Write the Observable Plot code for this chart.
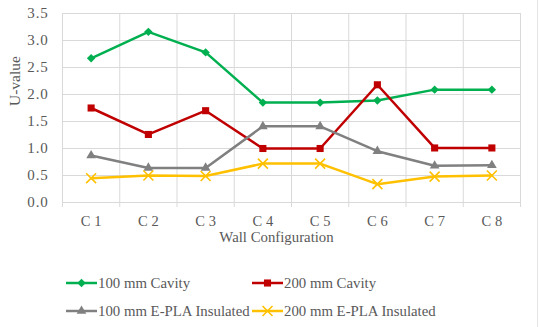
<!DOCTYPE html>
<html>
<head>
<meta charset="utf-8">
<script src="https://cdn.jsdelivr.net/npm/d3@7"></script>
<script src="https://cdn.jsdelivr.net/npm/@observablehq/plot@0.6"></script>
<style>
  body { margin: 0; background: #fff; }
  #wrap { position: relative; width: 550px; height: 327px; font-family: "Liberation Serif", "Times New Roman", serif; color: #595959; }
  #edge { position: absolute; left: 537px; top: 0; width: 1px; height: 327px; background: #e4e4e4; }
  #legend { display: grid; grid-template-columns: 186px auto; margin-left: 66px; padding-top: 17px; font-size: 14.8px; }
  .item { display: flex; align-items: center; height: 28px; white-space: nowrap; }
  .item svg { margin-right: 1px; }
  .ytick text { letter-spacing: 0.8px; }
</style>
</head>
<body>
<div id="wrap"><div id="chart"></div><div id="legend"></div><div id="edge"></div></div>
<script>
const categories = ["C 1", "C 2", "C 3", "C 4", "C 5", "C 6", "C 7", "C 8"];
const seriesNames = ["100 mm Cavity", "200 mm Cavity", "100 mm E-PLA Insulated", "200 mm E-PLA Insulated"];
const cavity100 = [2.67, 3.16, 2.78, 1.85, 1.85, 1.89, 2.09, 2.09];
const cavity200 = [1.75, 1.26, 1.70, 1.00, 1.00, 2.18, 1.01, 1.01];
const epla100 = [0.87, 0.64, 0.64, 1.41, 1.41, 0.95, 0.68, 0.69];
const epla200 = [0.45, 0.50, 0.49, 0.72, 0.72, 0.34, 0.48, 0.50];
const yTicks = [0, 0.5, 1, 1.5, 2, 2.5, 3, 3.5];
const colors = ["#00B050", "#C00000", "#808080", "#FFC000"];
const symbols = ["diamond2", "square", "triangle", "times"];
const radii = [3.8, 4, 3.6, 4.6];

const allValues = [cavity100, cavity200, epla100, epla200];
const data = allValues.flatMap((vals, s) => vals.map((v, i) => ({series: seriesNames[s], s, idx: i + 0.5, value: v})));

const font = "Liberation Serif, Times New Roman, serif";
const textColor = "#595959";
const grid = "#d9d9d9";

const marks = [
  Plot.gridY({ticks: yTicks, stroke: grid, strokeOpacity: 1}),
  Plot.gridX({ticks: d3.range(0, categories.length + 1), stroke: grid, strokeOpacity: 1}),
  Plot.ruleY([0], {stroke: grid}),
  Plot.axisX({ticks: d3.range(0, categories.length + 1), tickSize: 5, tickFormat: () => "", stroke: grid, label: null}),
  Plot.axisX({ticks: categories.map((c, i) => i + 0.5), tickFormat: v => categories[Math.floor(v)], tickSize: 0, tickPadding: 13, label: null, fill: textColor, fontSize: 14.5}),
  Plot.axisY({ticks: yTicks, tickFormat: d => d.toFixed(1), tickSize: 0, tickPadding: 14, label: null, fill: textColor, fontSize: 15, className: "ytick"}),
  Plot.text(["Wall Configuration"], {frameAnchor: "bottom", dy: 39, dx: -15, fill: textColor, fontSize: 14.8}),
  Plot.text(["U-value"], {frameAnchor: "left", dx: -47, dy: -2, rotate: -90, fill: textColor, fontSize: 15.5})
];
seriesNames.forEach((name, s) => {
  const d = data.filter(r => r.s === s);
  marks.push(Plot.line(d, {x: "idx", y: "value", stroke: colors[s], strokeWidth: 2.5}));
  if (symbols[s] === "times") {
    marks.push(Plot.dot(d, {x: "idx", y: "value", symbol: "times", r: radii[s], stroke: colors[s], strokeWidth: 1.6}));
  } else {
    marks.push(Plot.dot(d, {x: "idx", y: "value", symbol: symbols[s], r: radii[s], fill: colors[s], stroke: "none"}));
  }
});

const chart = Plot.plot({
  width: 550,
  height: 252,
  marginLeft: 62,
  marginRight: 30,
  marginTop: 13,
  marginBottom: 50,
  style: {fontFamily: font, background: "#fff", color: textColor},
  x: {type: "linear", domain: [0, categories.length], axis: null},
  y: {domain: [0, 3.5], axis: null},
  marks
});
document.getElementById("chart").appendChild(chart);

// legend
const legend = document.getElementById("legend");
const symbolPath = {
  diamond2: d3.symbol(d3.symbolDiamond2, Math.PI * 3.8 * 3.8)(),
  square: d3.symbol(d3.symbolSquare, Math.PI * 4 * 4)(),
  triangle: d3.symbol(d3.symbolTriangle, Math.PI * 3.6 * 3.6)(),
  times: d3.symbol(d3.symbolTimes, Math.PI * 4.6 * 4.6)()
};
seriesNames.forEach((name, s) => {
  const item = document.createElement("div");
  item.className = "item";
  const isX = symbols[s] === "times";
  item.innerHTML = `<svg width="31" height="14" viewBox="0 0 31 14">
    <line x1="0" x2="31" y1="7" y2="7" stroke="${colors[s]}" stroke-width="2.5"/>
    <path transform="translate(15.5,7)" d="${symbolPath[symbols[s]]}" ${isX ? `fill="none" stroke="${colors[s]}" stroke-width="1.6"` : `fill="${colors[s]}"`}/>
  </svg><span>${name}</span>`;
  legend.appendChild(item);
});
</script>
</body>
</html>
